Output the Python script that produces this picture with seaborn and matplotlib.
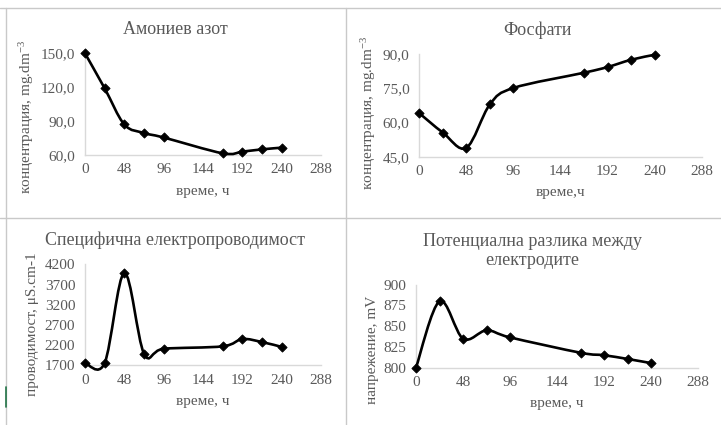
import numpy as np
import pandas as pd
import matplotlib
matplotlib.use("Agg")
import matplotlib.pyplot as plt
from matplotlib.path import Path
from matplotlib.patches import PathPatch
from matplotlib.lines import Line2D
import seaborn as sns

# Sampling times, h
hours = [0, 24, 48, 72, 96, 168, 192, 216, 240]

ammonium = [150.0, 119.0, 87.0, 79.5, 75.5, 61.5, 63.0, 65.0, 66.5]
phosphate = [64.1, 55.6, 48.9, 68.0, 75.2, 81.9, 84.4, 87.6, 89.8]
conductivity = [1758, 1758, 3985, 1990, 2110, 2170, 2350, 2275, 2155]
voltage = [800, 880, 835, 845, 836.5, 818, 815, 810.5, 805.5]

x_ticks = [0, 48, 96, 144, 192, 240, 288]

sns.set_theme(style="white")
plt.rcParams["font.family"] = ["Liberation Serif", "DejaVu Serif"]
plt.rcParams["mathtext.fontset"] = "custom"
plt.rcParams["mathtext.rm"] = "Liberation Serif"
plt.rcParams["mathtext.it"] = "Liberation Serif:italic"

TXT = "#595959"
GRID = "#d9d9d9"
FRAME = "#c9c9c9"

W, H = 721, 425
fig = plt.figure(figsize=(W / 100, H / 100), dpi=100)
fig.patch.set_facecolor("white")


def px_axes(x0, x1, ytop, ybot):
    return fig.add_axes([x0 / W, 1 - ybot / H, (x1 - x0) / W, (ybot - ytop) / H])


def smooth_path(x, y):
    """Cubic Bezier through the points (Catmull-Rom tangents)."""
    P = np.column_stack([x, y]).astype(float)
    n = len(P)
    verts = [P[0]]
    codes = [Path.MOVETO]
    for i in range(n - 1):
        p0 = P[i - 1] if i > 0 else P[i]
        p1, p2 = P[i], P[i + 1]
        p3 = P[i + 2] if i + 2 < n else P[i + 1]
        verts += [p1 + (p2 - p0) / 6, p2 - (p3 - p1) / 6, p2]
        codes += [Path.CURVE4] * 3
    return Path(verts, codes)


def panel(ax, values, yticks, yfmt, title, ylabel, xlabel, ylab_pos, title_x):
    df = pd.DataFrame({"t": hours, "v": values})
    ax.add_patch(PathPatch(smooth_path(df["t"], df["v"]), facecolor="none",
                           edgecolor="black", lw=1.9, clip_on=False, zorder=3))
    sns.scatterplot(data=df, x="t", y="v", marker="D", color="black", s=22,
                    edgecolor="black", linewidth=0.6, ax=ax, zorder=4, clip_on=False)
    ax.set_xlim(0, 288)
    ax.set_ylim(yticks[0], yticks[-1])
    ax.set_xticks(x_ticks)
    ax.set_yticks(yticks)
    ax.set_yticklabels([yfmt(v) for v in yticks])
    ax.tick_params(length=0, labelsize=11, labelcolor=TXT)
    ax.tick_params(axis="y", pad=7)
    ax.tick_params(axis="x", pad=6)
    for s in ["top", "right"]:
        ax.spines[s].set_visible(False)
    for s in ["left", "bottom"]:
        ax.spines[s].set_color(GRID)
        ax.spines[s].set_linewidth(1.0)
    ax.set_title(title, fontsize=13, color=TXT, pad=14, x=title_x)
    ax.set_ylabel(ylabel, fontsize=11, color=TXT)
    ax.yaxis.set_label_coords(*ylab_pos)
    ax.set_xlabel(xlabel, fontsize=11, color=TXT, labelpad=6)
    ax.set_facecolor("none")


comma1 = lambda v: f"{v:.1f}".replace(".", ",")
integer = lambda v: f"{v:.0f}"

ax1 = px_axes(85, 321, 53.3, 155)
panel(ax1, ammonium, [60, 90, 120, 150], comma1, "Амониев азот",
      r"концентрация, mg.dm$^{\mathregular{-3}}$", "време, ч", (-0.208, 0.37), 0.381)

ax2 = px_axes(419.3, 701.7, 54.3, 156.7)
panel(ax2, phosphate, [45, 60, 75, 90], comma1, "Фосфати",
      r"концентрация, mg.dm$^{\mathregular{-3}}$", "време,ч", (-0.146, 0.43), 0.42)

ax3 = px_axes(85, 321, 264.3, 365.3)
panel(ax3, conductivity, [1700, 2200, 2700, 3200, 3700, 4200], integer,
      "Специфична електропроводимост", "проводимост, μS.cm-1", "време, ч",
      (-0.195, 0.41), 0.381)

ax4 = px_axes(416, 698.3, 284.7, 367.7)
panel(ax4, voltage, [800, 825, 850, 875, 900], integer,
      "Потенциална разлика между\nелектродите", "напрежение, mV", "време, ч",
      (-0.131, 0.22), 0.411)

# Frame lines between the four charts
def fig_line(x0, y0, x1, y1, color=FRAME, lw=1.0):
    fig.add_artist(Line2D([x0 / W, x1 / W], [1 - y0 / H, 1 - y1 / H],
                          transform=fig.transFigure, color=color, lw=lw))

fig_line(0, 7.5, W, 7.5)
fig_line(5.5, 7.5, 5.5, H)
fig_line(346, 7.5, 346, H)
fig_line(0, 218, W, 218)
fig_line(5.5, 387, 5.5, 407, color="#217346", lw=1.2)

fig.savefig("out.png", dpi=100, facecolor="white")
